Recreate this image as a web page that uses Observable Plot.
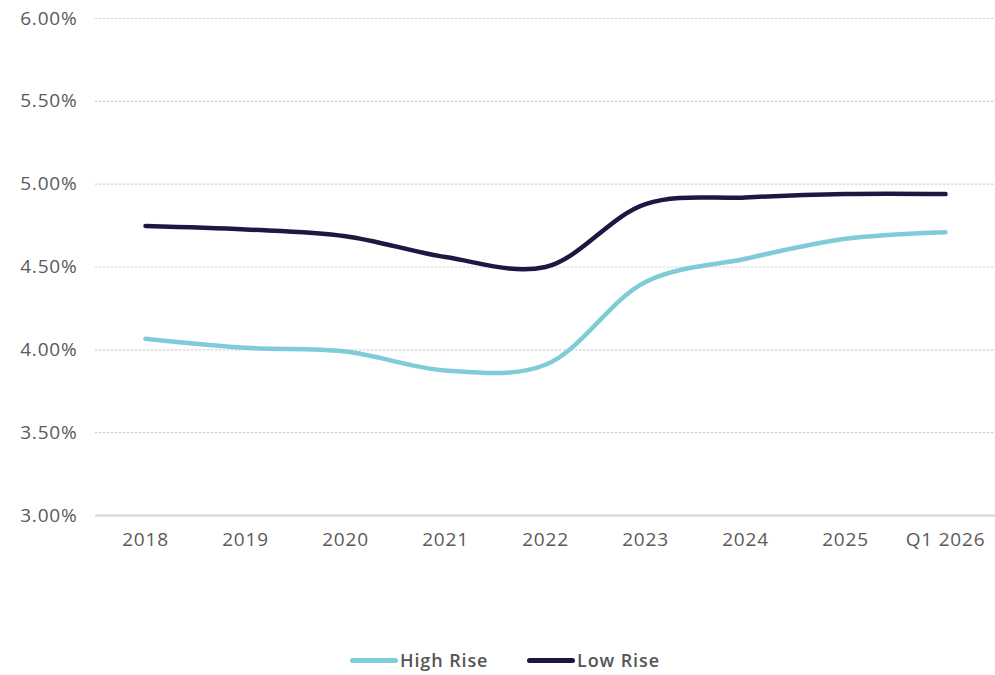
<!DOCTYPE html>
<html><head><meta charset="utf-8">
<script src="https://cdn.jsdelivr.net/npm/d3@7"></script>
<script src="https://cdn.jsdelivr.net/npm/@observablehq/plot@0.6"></script>
<style>
body{margin:0;background:#fff;font-family:"Open Sans",sans-serif;}
#legend{position:relative;margin-top:84px;height:22px;font-size:18px;font-weight:600;color:#555;letter-spacing:0.9px;}
.item{position:absolute;top:0;display:flex;align-items:center;height:22px;}
.sw{width:48px;height:5px;border-radius:3px;margin-right:2px;}
</style></head><body><div id="chart"></div><div id="legend"></div>
<script>
const years = ["2018","2019","2020","2021","2022","2023","2024","2025","Q1 2026"];
const highRise = [4.067,4.012,3.99,3.875,3.91,4.41,4.55,4.67,4.71];
const lowRise = [4.748,4.727,4.686,4.56,4.50,4.88,4.92,4.94,4.94];
const yTicks = [3.0,3.5,4.0,4.5,5.0,5.5,6.0];
const seriesNames = ["High Rise","Low Rise"];
const seriesColors = ["#7fcbd8","#1c1842"];

const rows = [];
years.forEach((y,i)=>{
  rows.push({year:y, value:highRise[i], series:seriesNames[0]});
  rows.push({year:y, value:lowRise[i], series:seriesNames[1]});
});

const chart = Plot.plot({
  width:995, height:565,
  marginTop:18, marginBottom:50, marginLeft:95, marginRight:0,
  style:{fontFamily:'"Open Sans",sans-serif', fontSize:"19px", color:"#5a5a5a", background:"#fff", letterSpacing:"0.8px"},
  x:{type:"point", domain:years, padding:0.5, label:null, tickSize:0, tickPadding:17},
  y:{domain:[3,6], ticks:yTicks, tickFormat:d=>d.toFixed(2)+"%", label:null, tickSize:0, tickPadding:18},
  color:{domain:seriesNames, range:seriesColors},
  marks:[
    Plot.ruleY(yTicks.filter(t=>t>3), {stroke:"#d2d2d2", strokeDasharray:"2.5,1.5", strokeWidth:1.2}),
    Plot.ruleY([3], {stroke:"#d4d4d4", strokeWidth:2}),
    Plot.lineY(rows, {x:"year", y:"value", stroke:"series", z:"series", strokeWidth:4.5, curve:"catmull-rom", strokeLinecap:"round"})
  ]
});
document.getElementById("chart").appendChild(chart);

const leg = document.getElementById("legend");
const legendLeft = [350, 527];
seriesNames.forEach((n,i)=>{
  const it = document.createElement("div"); it.className="item"; it.style.left=legendLeft[i]+"px";
  const sw = document.createElement("div"); sw.className="sw"; sw.style.background=seriesColors[i];
  const tx = document.createElement("span"); tx.textContent=n;
  it.appendChild(sw); it.appendChild(tx); leg.appendChild(it);
});
</script></body></html>
